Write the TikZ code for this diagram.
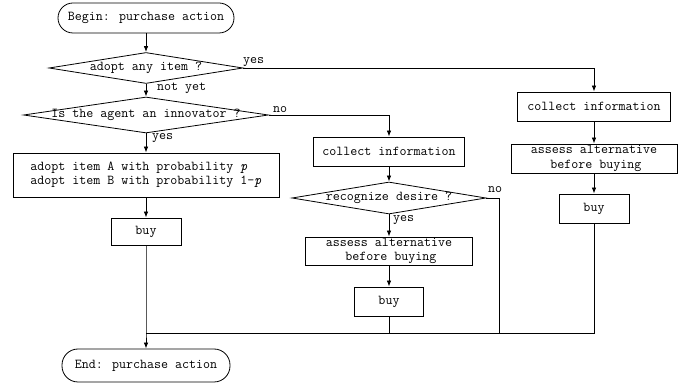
\documentclass[tikz,border=0pt]{standalone}
\usetikzlibrary{arrows.meta,shapes.geometric}
\begin{document}
\begin{tikzpicture}[x=1pt,y=-1pt,
  every node/.style={font=\ttfamily\fontsize{13.6}{14.5}\selectfont},
  box/.style={draw, line width=0.8pt, rectangle, inner sep=0pt, align=center},
  term/.style={draw, line width=0.8pt, rectangle, rounded corners=15pt, inner sep=0pt},
  dia/.style={draw, line width=0.8pt, diamond, inner sep=0pt},
  lbl/.style={anchor=base west, inner sep=0pt},
  con/.style={line width=0.8pt},
  arr/.style={con, -{Latex[length=6pt,width=4.5pt]}}]
\useasboundingbox (0,0) rectangle (697,387);
% left column
\node[term, minimum width=176pt, minimum height=30pt] (begin) at (146,18) {Begin: purchase action};
\node[dia, minimum width=194pt, minimum height=31pt] (d1) at (146,68) {};
\node (t1) at (d1) {adopt any item ?};
\node[dia, minimum width=245pt, minimum height=36pt] (d2) at (146,115) {};
\node (t2) at (d2) {Is the agent an innovator ?};
\node[box, align=left, minimum width=266pt, minimum height=44pt] (adopt) at (146,175)
  {adopt item A with probability \textit{p}\\adopt item B with probability 1-\textit{p}};
\node[box, minimum width=70pt, minimum height=27pt] (buy1) at (146,231.5) {buy};
\node[term, rounded corners=16pt, minimum width=168pt, minimum height=33pt] (end) at (146,365.5) {End: purchase action};
% middle column
\node[box, minimum width=151pt, minimum height=29pt] (colM) at (389,151.5) {collect information};
\node[dia, minimum width=194pt, minimum height=32pt] (d3) at (389,198) {};
\node (t3) at (d3) {recognize desire ?};
\node[box, minimum width=167pt, minimum height=28pt] (assM) at (389,251) {assess alternative\\\hspace*{3.6pt}before buying};
\node[box, minimum width=69pt, minimum height=29pt] (buyM) at (389,301.5) {buy};
% right column
\node[box, minimum width=153pt, minimum height=29pt] (colR) at (594,106.5) {collect information};
\node[box, minimum width=166pt, minimum height=29pt] (assR) at (594,158.5) {assess alternative\\\hspace*{3.6pt}before buying};
\node[box, minimum width=70pt, minimum height=29pt] (buyR) at (594,208.5) {buy};
% junctions
\coordinate (jL) at (146,333);
\coordinate (jM) at (389,333);
\coordinate (jN) at (499,333);
\coordinate (jR) at (594,333);
\coordinate (cN) at (499,198);
\coordinate (cY) at (594,68);
\coordinate (cNo) at (389,115);
% connectors
\draw[arr] (begin) -- (d1);
\draw[arr] (d1.east) -- (cY) -- (colR);
\draw[arr] (d1) -- (d2);
\draw[arr] (d2.east) -- (cNo) -- (colM);
\draw[arr] (d2) -- (adopt);
\draw[arr] (adopt) -- (buy1);
\draw[arr] (buy1) -- (jL) -- (end);
\draw[arr] (colM) -- (d3);
\draw[arr] (d3) -- (assM);
\draw[con] (d3.east) -- (cN) -- (jN);
\draw[arr] (assM) -- (buyM);
\draw[con] (buyM) -- (jM);
\draw[arr] (colR) -- (assR);
\draw[arr] (assR) -- (buyR);
\draw[con] (buyR) -- (jR) -- (jL);
% labels
\node[lbl] (l1) at (243,63.5) {yes};
\node[lbl] (l2) at (157,91) {not yet};
\node[lbl] (l3) at (273,113) {no};
\node[lbl] (l4) at (152,140) {yes};
\node[lbl] (l5) at (488,193) {no};
\node[lbl] (l6) at (393,222) {yes};
\end{tikzpicture}
\end{document}
